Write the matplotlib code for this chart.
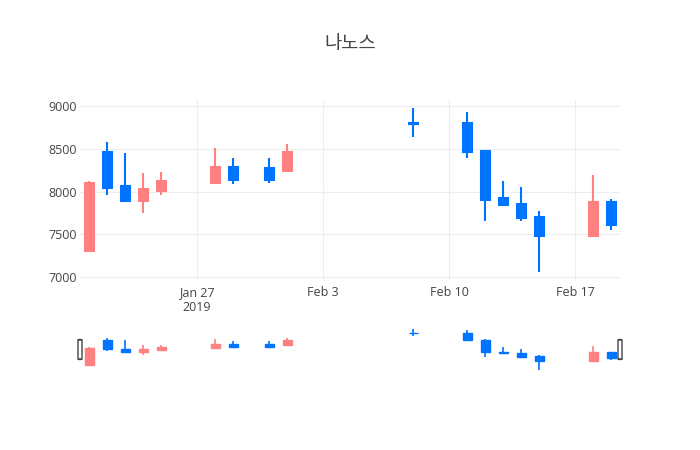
import numpy as np
import pandas as pd
import matplotlib
matplotlib.use('Agg')
import matplotlib.pyplot as plt
from matplotlib.patches import FancyBboxPatch

# daily OHLC
dates = pd.to_datetime([
    '2019-01-21', '2019-01-22', '2019-01-23', '2019-01-24', '2019-01-25',
    '2019-01-28', '2019-01-29', '2019-01-31', '2019-02-01', '2019-02-08',
    '2019-02-11', '2019-02-12', '2019-02-13', '2019-02-14', '2019-02-15',
    '2019-02-18', '2019-02-19'])
open_ = [7300, 8460, 8060, 7890, 8010, 8100, 8290, 8280, 8240, 8800,
         8800, 8480, 7920, 7850, 7700, 7480, 7880]
high = [8120, 8580, 8450, 8220, 8230, 8510, 8400, 8400, 8560, 8980,
        8930, 8490, 8120, 8050, 7770, 8200, 7910]
low = [7300, 7960, 7890, 7750, 7960, 8100, 8090, 8100, 8240, 8640,
       8400, 7650, 7840, 7650, 7060, 7480, 7550]
close = [8100, 8040, 7890, 8030, 8120, 8290, 8140, 8140, 8460, 8790,
         8460, 7900, 7840, 7690, 7480, 7880, 7610]

tick_dates = pd.to_datetime(['2019-01-27', '2019-02-03', '2019-02-10', '2019-02-17'])
tick_labels = ['Jan 27\n2019', 'Feb 3', 'Feb 10', 'Feb 17']
yticks = [7000, 7500, 8000, 8500, 9000]

up_color = '#ff8080'
down_color = '#0074ff'
text_color = '#444444'

o = np.array(open_)
c = np.array(close)
colors = [up_color if cc >= oo else down_color for oo, cc in zip(o, c)]
body_bottom = np.minimum(o, c)
body_height = np.abs(c - o)


def draw_candles(ax, wick_lw, edge_lw):
    ax.vlines(dates, low, high, colors=colors, linewidth=wick_lw, zorder=2)
    ax.bar(dates, body_height, bottom=body_bottom, width=0.5, color=colors,
           edgecolor=colors, linewidth=edge_lw, zorder=3)


fig = plt.figure(figsize=(7, 4.5), dpi=100)

# main plot
ax = fig.add_axes([80 / 700, (450 - 280.6) / 450, 540 / 700, 180.6 / 450])
draw_candles(ax, 1.5, 1.5)
xmin = dates[0] - pd.Timedelta(hours=12)
xmax = dates[-1] + pd.Timedelta(hours=12)
ax.set_xlim(xmin, xmax)
span = max(high) - min(low)
ax.set_ylim(min(low) - 0.055 * span, max(high) + 0.05 * span)
ax.set_yticks(yticks)
ax.set_yticklabels([str(v) for v in yticks])
ax.set_xticks(tick_dates)
ax.set_xticklabels(tick_labels, linespacing=1.2)
ax.grid(True, color='#eeeeee', linewidth=0.8, zorder=0)
ax.set_axisbelow(True)
for s in ax.spines.values():
    s.set_visible(False)
ax.tick_params(axis='both', length=0, labelsize=9, labelcolor=text_color,
               labelfontfamily='Open Sans')
ax.tick_params(axis='y', pad=2)
ax.tick_params(axis='x', pad=4)

# range slider
ax2 = fig.add_axes([80 / 700, (450 - 372) / 450, 540 / 700, 45 / 450])
draw_candles(ax2, 1.2, 1.0)
ax2.set_xlim(xmin, xmax)
ax2.set_ylim(min(low) - 0.05 * span, max(high) + 0.05 * span)
ax2.set_xticks([])
ax2.set_yticks([])
for s in ax2.spines.values():
    s.set_visible(False)

# slider handles
for xf in [0, 1]:
    h = FancyBboxPatch((xf - 2 / 540, 0.28), 4 / 540, 0.44,
                       boxstyle='round,pad=0,rounding_size=0.005',
                       transform=ax2.transAxes, clip_on=False,
                       facecolor='white', edgecolor='#444444', linewidth=1.0,
                       zorder=5)
    ax2.add_patch(h)

fig.text(0.5, 1 - 43 / 450, '나노스', ha='center', va='center', fontsize=13.5,
         color=text_color, family=['Noto Sans CJK KR', 'DejaVu Sans'])

fig.savefig('out.png', dpi=100)
plt.close(fig)
